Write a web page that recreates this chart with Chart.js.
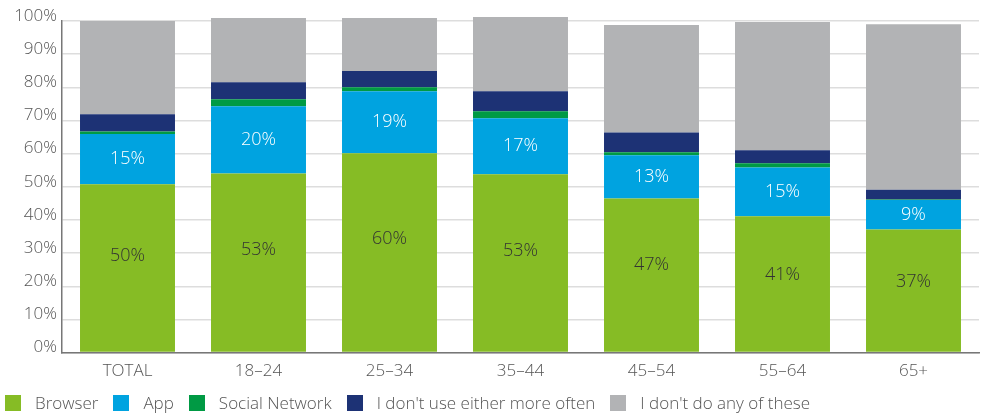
<!DOCTYPE html>
<html lang="en">
<head>
    <meta charset="UTF-8">
    <title>Browser vs App by age</title>
    <script src="https://cdn.jsdelivr.net/npm/chart.js"></script>
    <style>
        body {
            margin: 0;
            background: #fff;
            font-family: "Open Sans", sans-serif;
        }
        #wrap {
            position: relative;
            width: 981px;
            height: 417px;
        }
        #chartBox {
            width: 981px;
            height: 394px;
        }
        #legend {
            position: absolute;
            left: 5px;
            top: 393px;
            display: flex;
            font-size: 17px;
            font-weight: 300;
            color: #555;
            line-height: 20px;
        }
        #legend .item {
            display: flex;
            align-items: center;
            margin-right: 15px;
        }
        #legend .box {
            width: 16px;
            height: 16px;
            margin-right: 14px;
        }
    </style>
</head>
<body>

<div id="wrap">
    <div id="chartBox">
        <canvas id="usageChart"></canvas>
    </div>
    <div id="legend"></div>
</div>

<script>
    const categories = ['TOTAL', '18–24', '25–34', '35–44', '45–54', '55–64', '65+'];

    const browser = [50.8, 54.0, 60.1, 53.8, 46.5, 41.1, 37.1];
    const app = [15.1, 20.3, 18.7, 16.9, 13.0, 14.7, 8.9];
    const socialNetwork = [0.8, 2.1, 1.2, 2.1, 0.9, 1.3, 0.2];
    const dontUseEither = [5.2, 5.1, 4.9, 6.0, 6.0, 3.9, 2.9];
    const noneOfThese = [28.1, 19.4, 16.0, 22.4, 32.4, 38.7, 49.9];

    // percentages printed on the bars
    const browserLabels = ['50%', '53%', '60%', '53%', '47%', '41%', '37%'];
    const appLabels = ['15%', '20%', '19%', '17%', '13%', '15%', '9%'];

    const yTicks = [0, 10, 20, 30, 40, 50, 60, 70, 80, 90, 100];

    const FONT = '"Open Sans", sans-serif';

    // draws the values inside the green and blue segments
    const barLabels = {
        id: 'barLabels',
        afterDatasetsDraw(chart) {
            const ctx = chart.ctx;
            ctx.save();
            ctx.font = '300 18px ' + FONT;
            ctx.textAlign = 'center';
            ctx.textBaseline = 'middle';
            [[0, browserLabels, '#333333', 0.43], [1, appLabels, '#ffffff', 0.5]].forEach(([dsIndex, texts, color, pos]) => {
                const meta = chart.getDatasetMeta(dsIndex);
                ctx.fillStyle = color;
                meta.data.forEach((bar, i) => {
                    const y = bar.y + (bar.base - bar.y) * pos;
                    ctx.fillText(texts[i], bar.x, y);
                });
            });
            ctx.restore();
        }
    };

    const ctx = document.getElementById('usageChart').getContext('2d');

    const usageChart = new Chart(ctx, {
        type: 'bar',
        data: {
            labels: categories,
            datasets: [
                { label: 'Browser', data: browser, backgroundColor: '#86BC25' },
                { label: 'App', data: app, backgroundColor: '#00A3E0' },
                { label: 'Social Network', data: socialNetwork, backgroundColor: '#009A44' },
                { label: "I don't use either more often", data: dontUseEither, backgroundColor: '#1D3275' },
                { label: "I don't do any of these", data: noneOfThese, backgroundColor: '#B2B3B5' }
            ].map(ds => Object.assign(ds, {
                categoryPercentage: 1,
                barPercentage: 0.725,
                borderWidth: 0,
                clip: false
            }))
        },
        options: {
            responsive: true,
            maintainAspectRatio: false,
            animation: false,
            layout: {
                padding: { top: 21, right: 2, bottom: 5, left: 0 }
            },
            plugins: {
                legend: { display: false },
                tooltip: { enabled: false }
            },
            scales: {
                x: {
                    stacked: true,
                    grid: { display: false, drawTicks: false },
                    border: { color: '#777777', width: 1.5 },
                    ticks: {
                        color: '#555555',
                        padding: 8,
                        font: { family: FONT, size: 17, weight: 300 }
                    }
                },
                y: {
                    stacked: true,
                    min: 0,
                    max: 100,
                    afterBuildTicks: scale => {
                        scale.ticks = yTicks.map(v => ({ value: v }));
                    },
                    afterFit: scale => {
                        scale.width = 62;
                    },
                    grid: { color: '#DDDDDD', lineWidth: 1.5, drawTicks: false },
                    border: { color: '#777777', width: 1.5 },
                    ticks: {
                        color: '#555555',
                        padding: 5,
                        labelOffset: -5,
                        font: { family: FONT, size: 17, weight: 300 },
                        callback: v => v + '%'
                    }
                }
            }
        },
        plugins: [barLabels]
    });

    // legend below the chart, built from the datasets
    const legendEl = document.getElementById('legend');
    usageChart.data.datasets.forEach(ds => {
        const item = document.createElement('div');
        item.className = 'item';
        const box = document.createElement('span');
        box.className = 'box';
        box.style.background = ds.backgroundColor;
        const text = document.createElement('span');
        text.textContent = ds.label;
        item.appendChild(box);
        item.appendChild(text);
        legendEl.appendChild(item);
    });
</script>

</body>
</html>
